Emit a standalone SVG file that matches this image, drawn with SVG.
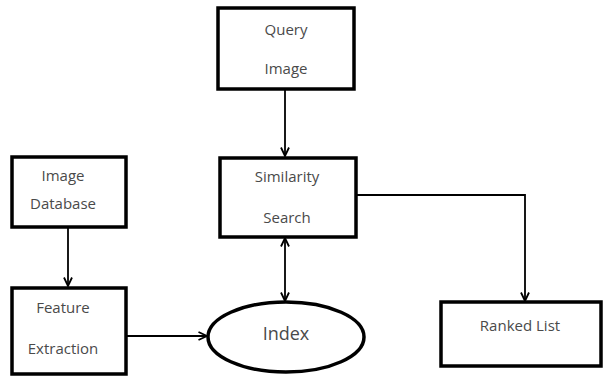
<svg xmlns="http://www.w3.org/2000/svg" width="603" height="377" viewBox="0 0 603 377">
<style>
.box{fill:#fff;stroke:#000;stroke-width:3.5}
.t{font-family:"Open Sans","Liberation Sans",sans-serif;font-size:15px;fill:#4a4a4a;text-anchor:middle;dominant-baseline:central}
.big{font-size:18px}
.c{fill:none;stroke:#000;stroke-width:1.8}
</style>
<defs>
<marker id="ah" viewBox="0 0 10 10" refX="9.5" refY="5" markerWidth="10" markerHeight="10" markerUnits="userSpaceOnUse" orient="auto-start-reverse">
<polyline points="1,1 9.5,5 1,9" fill="none" stroke="#000" stroke-width="1.8"/>
</marker>
</defs>
<rect width="603" height="377" fill="#fff"/>
<g id="connectors">
<line class="c" x1="285" y1="90" x2="285" y2="156" marker-end="url(#ah)"/>
<line class="c" x1="68" y1="228" x2="68" y2="286" marker-end="url(#ah)"/>
<line class="c" x1="285" y1="238" x2="285" y2="301" marker-start="url(#ah)" marker-end="url(#ah)"/>
<line class="c" x1="127" y1="336" x2="207" y2="336" marker-end="url(#ah)"/>
<polyline class="c" points="357,195 525,195 525,301" marker-end="url(#ah)"/>
</g>
<g id="query-image">
<rect class="box" x="218" y="8" width="136" height="81"/>
<text class="t" x="286" y="29">Query</text>
<text class="t" x="286" y="68">Image</text>
</g>
<g id="similarity-search">
<rect class="box" x="220" y="158" width="136" height="79"/>
<text class="t" x="287" y="176">Similarity</text>
<text class="t" x="287" y="217">Search</text>
</g>
<g id="image-database">
<rect class="box" x="12" y="157" width="114" height="70"/>
<text class="t" x="63" y="175">Image</text>
<text class="t" x="63" y="203">Database</text>
</g>
<g id="feature-extraction">
<rect class="box" x="12" y="288" width="114" height="86"/>
<text class="t" x="63" y="307">Feature</text>
<text class="t" x="63" y="348">Extraction</text>
</g>
<g id="index">
<ellipse class="box" cx="286" cy="337" rx="78" ry="35" stroke-width="3"/>
<text class="t big" x="286" y="333">Index</text>
</g>
<g id="ranked-list">
<rect class="box" x="441" y="302" width="160" height="64"/>
<text class="t" x="520" y="325">Ranked List</text>
</g>
</svg>
